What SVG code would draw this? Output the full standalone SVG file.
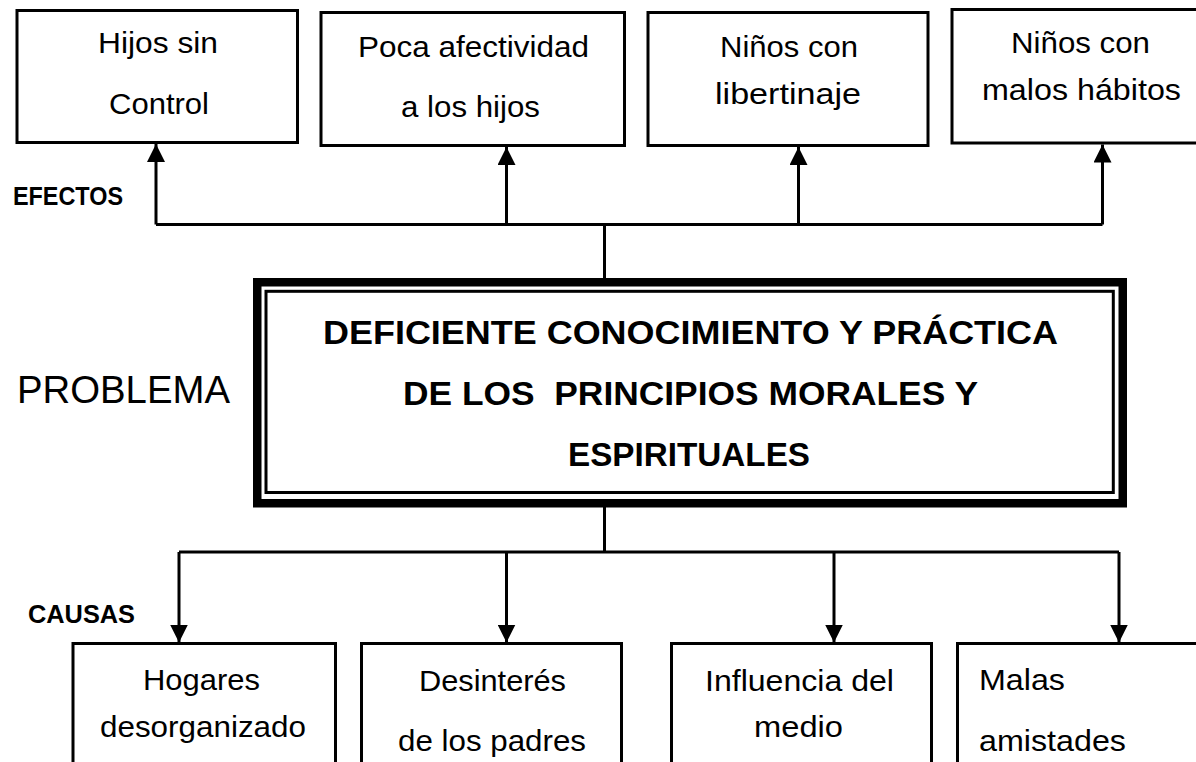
<svg xmlns="http://www.w3.org/2000/svg" width="1196" height="762" viewBox="0 0 1196 762">
  <defs>
    <style>
      .box { fill: #ffffff; stroke: #000000; stroke-width: 3; }
      .t { font-family: "Liberation Sans", Arial, sans-serif; font-size: 30px; fill: #000000; }
      .tc { text-anchor: start; }
      .main { font-family: "Liberation Sans", Arial, sans-serif; font-size: 34px; font-weight: bold; fill: #000000; }
      .lbl { font-family: "Liberation Sans", Arial, sans-serif; font-size: 25px; font-weight: bold; fill: #000000; }
      .big { font-family: "Liberation Sans", Arial, sans-serif; font-size: 38px; fill: #000000; }
      .conn { fill: none; stroke: #000000; stroke-width: 3; }
    </style>
    <marker id="arrow" viewBox="0 0 18 18" refX="18" refY="9" markerWidth="18" markerHeight="18" markerUnits="userSpaceOnUse" orient="auto">
      <path d="M0,0 L18,9 L0,18 z" fill="#000000"/>
    </marker>
  </defs>
  <rect x="0" y="0" width="1196" height="762" fill="#ffffff"/>

  <!-- Labels -->
  <g id="label-efectos">
    <text class="lbl" x="13" y="205" textLength="110" lengthAdjust="spacingAndGlyphs">EFECTOS</text>
  </g>
  <g id="label-problema">
    <text class="big" x="17" y="403" textLength="213" lengthAdjust="spacingAndGlyphs">PROBLEMA</text>
  </g>
  <g id="label-causas">
    <text class="lbl" x="28" y="623" textLength="107" lengthAdjust="spacingAndGlyphs">CAUSAS</text>
  </g>

  <!-- Effects -->
  <g id="efecto-1">
    <rect class="box" x="17" y="10.5" width="280.5" height="132"/>
    <text class="t" x="98" y="53" textLength="120" lengthAdjust="spacingAndGlyphs">Hijos sin</text>
    <text class="t" x="109" y="114" textLength="100" lengthAdjust="spacingAndGlyphs">Control</text>
  </g>
  <g id="efecto-2">
    <rect class="box" x="321" y="12.5" width="303.5" height="133"/>
    <text class="t" x="358" y="57" textLength="231" lengthAdjust="spacingAndGlyphs">Poca afectividad</text>
    <text class="t" x="401" y="117" textLength="139" lengthAdjust="spacingAndGlyphs">a los hijos</text>
  </g>
  <g id="efecto-3">
    <rect class="box" x="648" y="12.5" width="280" height="133"/>
    <text class="t" x="720" y="57" textLength="138" lengthAdjust="spacingAndGlyphs">Niños con</text>
    <text class="t" x="715" y="104" textLength="146" lengthAdjust="spacingAndGlyphs">libertinaje</text>
  </g>
  <g id="efecto-4">
    <rect class="box" x="952" y="9.5" width="260" height="133.5"/>
    <text class="t" x="1011" y="53" textLength="139" lengthAdjust="spacingAndGlyphs">Niños con</text>
    <text class="t" x="982" y="100" textLength="199" lengthAdjust="spacingAndGlyphs">malos hábitos</text>
  </g>

  <!-- Problem -->
  <g id="problema">
    <rect x="257.25" y="282.25" width="865.5" height="221" fill="#ffffff" stroke="#000000" stroke-width="8.5"/>
    <rect x="266" y="291.3" width="847.3" height="201.2" fill="none" stroke="#000000" stroke-width="3"/>
    <text class="main" x="323" y="344" textLength="735" lengthAdjust="spacingAndGlyphs">DEFICIENTE CONOCIMIENTO Y PRÁCTICA</text>
    <text class="main" x="403" y="405" textLength="575" lengthAdjust="spacingAndGlyphs" xml:space="preserve">DE LOS  PRINCIPIOS MORALES Y</text>
    <text class="main" x="568" y="466" textLength="242" lengthAdjust="spacingAndGlyphs">ESPIRITUALES</text>
  </g>

  <!-- Causes -->
  <g id="causa-1">
    <rect class="box" x="73" y="643.5" width="262.5" height="160"/>
    <text class="t" x="143" y="690" textLength="117" lengthAdjust="spacingAndGlyphs">Hogares</text>
    <text class="t" x="100" y="737" textLength="206" lengthAdjust="spacingAndGlyphs">desorganizado</text>
  </g>
  <g id="causa-2">
    <rect class="box" x="361.5" y="643.5" width="260" height="160"/>
    <text class="t" x="419" y="691" textLength="147" lengthAdjust="spacingAndGlyphs">Desinterés</text>
    <text class="t" x="398" y="751" textLength="188" lengthAdjust="spacingAndGlyphs">de los padres</text>
  </g>
  <g id="causa-3">
    <rect class="box" x="671.5" y="643.5" width="260" height="160"/>
    <text class="t" x="705" y="691" textLength="189" lengthAdjust="spacingAndGlyphs">Influencia del</text>
    <text class="t" x="754" y="737" textLength="89" lengthAdjust="spacingAndGlyphs">medio</text>
  </g>
  <g id="causa-4">
    <rect class="box" x="957.5" y="643.5" width="260" height="160"/>
    <text class="t" x="979" y="690" textLength="86" lengthAdjust="spacingAndGlyphs">Malas</text>
    <text class="t" x="979" y="751" textLength="147" lengthAdjust="spacingAndGlyphs">amistades</text>
  </g>

  <!-- Connectors -->
  <g id="connectors">
    <path class="conn" d="M604.5,278 V224.5"/>
    <path class="conn" d="M156,224.5 H1102.5"/>
    <path class="conn" d="M156,224.5 V144" marker-end="url(#arrow)"/>
    <path class="conn" d="M506.5,224.5 V147" marker-end="url(#arrow)"/>
    <path class="conn" d="M798.5,224.5 V147" marker-end="url(#arrow)"/>
    <path class="conn" d="M1102.5,224.5 V144.5" marker-end="url(#arrow)"/>

    <path class="conn" d="M604.5,507 V552"/>
    <path class="conn" d="M179,552 H1119"/>
    <path class="conn" d="M179,552 V642.5" marker-end="url(#arrow)"/>
    <path class="conn" d="M506.5,552 V642.5" marker-end="url(#arrow)"/>
    <path class="conn" d="M834,552 V642.5" marker-end="url(#arrow)"/>
    <path class="conn" d="M1119,552 V642.5" marker-end="url(#arrow)"/>
  </g>
</svg>
